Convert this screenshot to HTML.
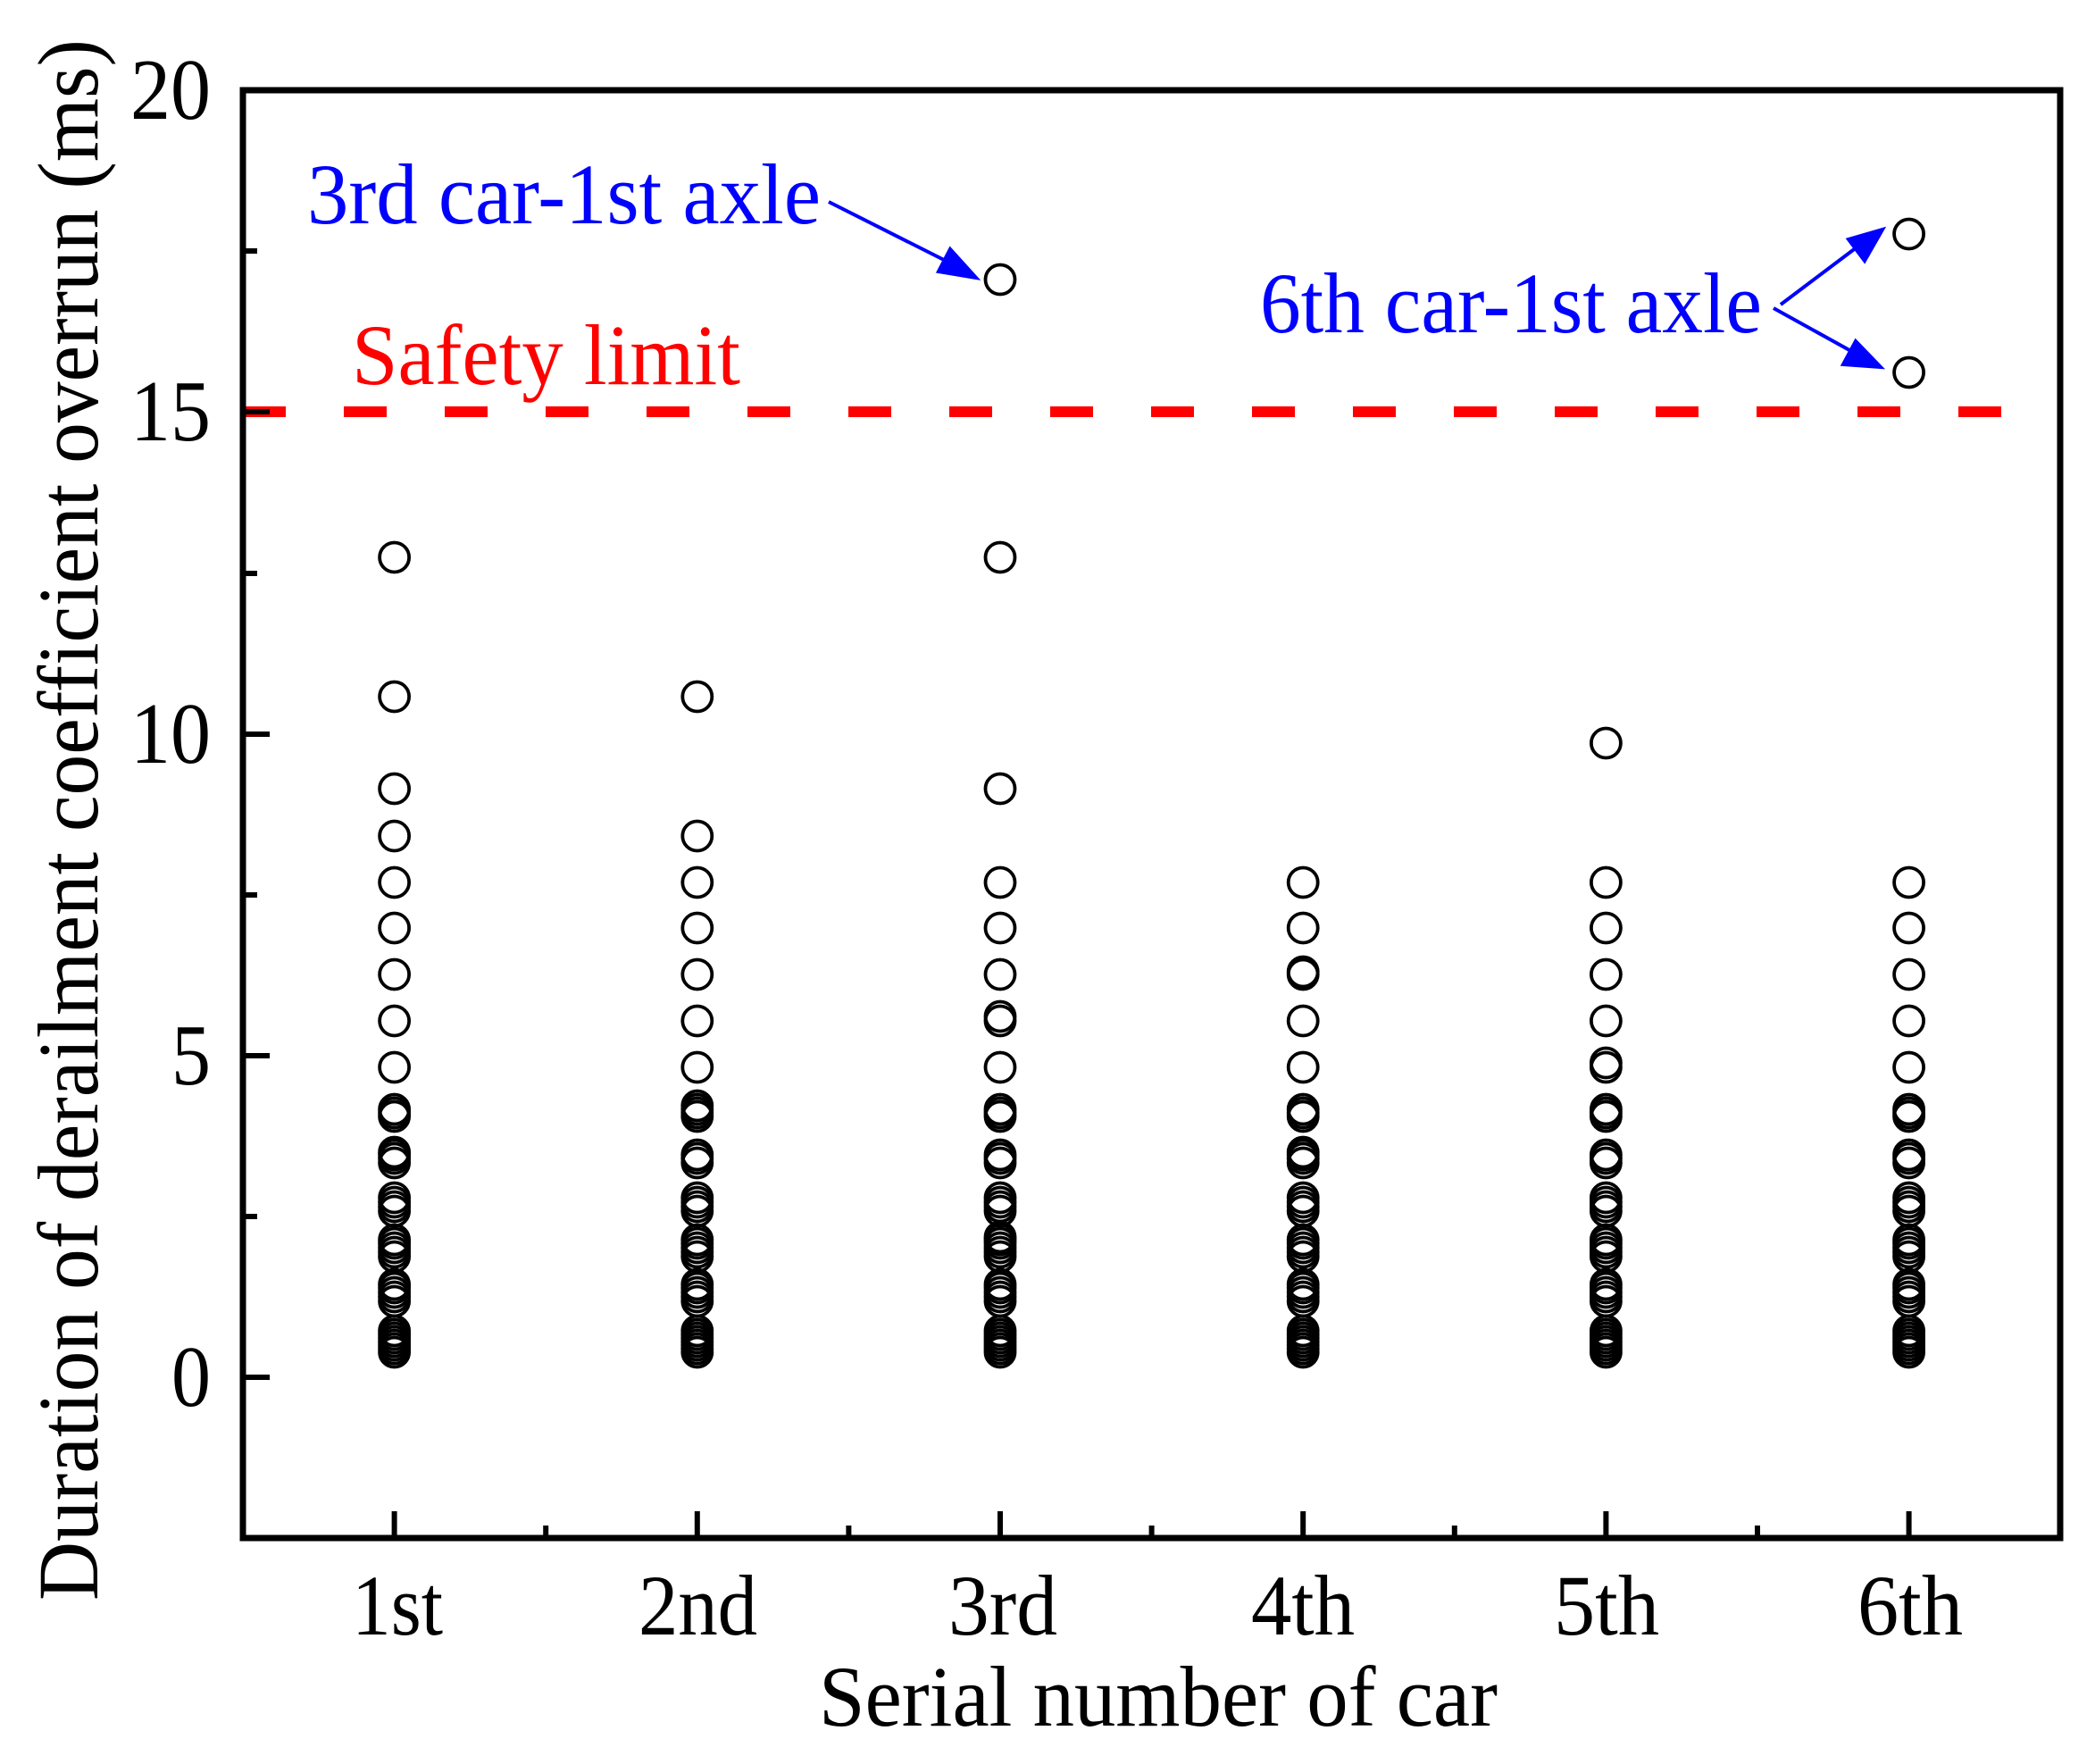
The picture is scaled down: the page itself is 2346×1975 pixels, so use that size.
<!DOCTYPE html>
<html><head><meta charset="utf-8"><style>
html,body{margin:0;padding:0;background:#fff;}
svg{display:block;}
text{font-family:"Liberation Serif",serif;}
</style></head><body>
<svg width="2346" height="1975" viewBox="0 0 2346 1975" xmlns="http://www.w3.org/2000/svg">
<defs>
<g id="G" fill="none" stroke="#000" stroke-width="3.8">
<circle cx="0" cy="1514" r="16.5"/><circle cx="0" cy="1510" r="16.5"/><circle cx="0" cy="1506" r="16.5"/><circle cx="0" cy="1502" r="16.5"/><circle cx="0" cy="1498" r="16.5"/><circle cx="0" cy="1494" r="16.5"/><circle cx="0" cy="1490" r="16.5"/>
<circle cx="0" cy="1457" r="16.5"/><circle cx="0" cy="1452" r="16.5"/><circle cx="0" cy="1447" r="16.5"/><circle cx="0" cy="1442" r="16.5"/><circle cx="0" cy="1438" r="16.5"/>
<circle cx="0" cy="1407" r="16.5"/><circle cx="0" cy="1402" r="16.5"/><circle cx="0" cy="1397" r="16.5"/><circle cx="0" cy="1392" r="16.5"/><circle cx="0" cy="1388" r="16.5"/>
<circle cx="0" cy="1356" r="16.5"/><circle cx="0" cy="1351" r="16.5"/><circle cx="0" cy="1346" r="16.5"/><circle cx="0" cy="1341" r="16.5"/>
<circle cx="0" cy="1302" r="16.5"/><circle cx="0" cy="1297" r="16.5"/><circle cx="0" cy="1293" r="16.5"/>
<circle cx="0" cy="1250" r="16.5"/><circle cx="0" cy="1246" r="16.5"/><circle cx="0" cy="1242" r="16.5"/>
<circle cx="0" cy="1195" r="16.5"/><circle cx="0" cy="1143" r="16.5"/><circle cx="0" cy="1091" r="16.5"/><circle cx="0" cy="1039" r="16.5"/><circle cx="0" cy="988" r="16.5"/>
</g>
</defs>
<line x1="272" y1="461" x2="2307" y2="461" stroke="#ff0000" stroke-width="12" stroke-dasharray="48 65"/>
<rect x="272" y="101" width="2035" height="1621" fill="none" stroke="#000" stroke-width="7"/>
<g stroke="#000" stroke-width="6">
<line x1="272" y1="101" x2="302" y2="101"/><line x1="272" y1="461" x2="302" y2="461"/><line x1="272" y1="822" x2="302" y2="822"/><line x1="272" y1="1182" x2="302" y2="1182"/><line x1="272" y1="1542" x2="302" y2="1542"/>
<line x1="272" y1="281" x2="288" y2="281"/><line x1="272" y1="642" x2="288" y2="642"/><line x1="272" y1="1002" x2="288" y2="1002"/><line x1="272" y1="1362" x2="288" y2="1362"/>
<line x1="441.6" y1="1722" x2="441.6" y2="1692"/><line x1="780.8" y1="1722" x2="780.8" y2="1692"/><line x1="1120" y1="1722" x2="1120" y2="1692"/><line x1="1459.2" y1="1722" x2="1459.2" y2="1692"/><line x1="1798.4" y1="1722" x2="1798.4" y2="1692"/><line x1="2137.6" y1="1722" x2="2137.6" y2="1692"/>
<line x1="611.2" y1="1722" x2="611.2" y2="1708"/><line x1="950.4" y1="1722" x2="950.4" y2="1708"/><line x1="1289.6" y1="1722" x2="1289.6" y2="1708"/><line x1="1628.8" y1="1722" x2="1628.8" y2="1708"/><line x1="1968" y1="1722" x2="1968" y2="1708"/>
</g>
<g font-size="98" fill="#000" text-anchor="end">
<text x="236" y="133" textLength="90" lengthAdjust="spacingAndGlyphs">20</text>
<text x="236" y="493" textLength="90" lengthAdjust="spacingAndGlyphs">15</text>
<text x="236" y="854" textLength="90" lengthAdjust="spacingAndGlyphs">10</text>
<text x="236" y="1214" textLength="44" lengthAdjust="spacingAndGlyphs">5</text>
<text x="236" y="1574" textLength="44" lengthAdjust="spacingAndGlyphs">0</text>
</g>
<g font-size="96" fill="#000">
<text x="394" y="1830" textLength="102" lengthAdjust="spacingAndGlyphs">1st</text>
<text x="715" y="1830" textLength="133" lengthAdjust="spacingAndGlyphs">2nd</text>
<text x="1062" y="1830" textLength="122" lengthAdjust="spacingAndGlyphs">3rd</text>
<text x="1401" y="1830" textLength="116" lengthAdjust="spacingAndGlyphs">4th</text>
<text x="1740" y="1830" textLength="118" lengthAdjust="spacingAndGlyphs">5th</text>
<text x="2080" y="1830" textLength="118" lengthAdjust="spacingAndGlyphs">6th</text>
</g>
<text x="917" y="1932" font-size="96" fill="#000" textLength="760" lengthAdjust="spacingAndGlyphs">Serial number of car</text>
<text transform="translate(109,1792) rotate(-90)" x="0" y="0" font-size="96" fill="#000" textLength="1748" lengthAdjust="spacingAndGlyphs">Duration of derailment coefficient overrun (ms)</text>
<g fill="none" stroke="#000" stroke-width="3.8">
<use href="#G" x="441.6"/>
<circle cx="441.6" cy="936" r="16.5"/><circle cx="441.6" cy="883" r="16.5"/><circle cx="441.6" cy="780" r="16.5"/><circle cx="441.6" cy="624" r="16.5"/><circle cx="441.6" cy="1290" r="16.5"/>
<use href="#G" x="780.8"/>
<circle cx="780.8" cy="936" r="16.5"/><circle cx="780.8" cy="780" r="16.5"/><circle cx="780.8" cy="1238" r="16.5"/>
<use href="#G" x="1120"/>
<circle cx="1120" cy="883" r="16.5"/><circle cx="1120" cy="624" r="16.5"/><circle cx="1120" cy="313" r="16.5"/><circle cx="1120" cy="1138" r="16.5"/><circle cx="1120" cy="1385" r="16.5"/>
<use href="#G" x="1459.2"/>
<circle cx="1459.2" cy="1088" r="16.5"/><circle cx="1459.2" cy="1290" r="16.5"/>
<use href="#G" x="1798.4"/>
<circle cx="1798.4" cy="832" r="16.5"/><circle cx="1798.4" cy="1190" r="16.5"/>
<use href="#G" x="2137.6"/>
<circle cx="2137.6" cy="262" r="16.5"/><circle cx="2137.6" cy="417" r="16.5"/>
</g>
<text x="344" y="250" font-size="96" fill="#0000ff" textLength="575" lengthAdjust="spacingAndGlyphs">3rd car-1st axle</text>
<text x="394" y="430" font-size="96" fill="#ff0000" textLength="435" lengthAdjust="spacingAndGlyphs">Safety limit</text>
<text x="1411" y="372" font-size="96" fill="#0000ff" textLength="562" lengthAdjust="spacingAndGlyphs">6th car-1st axle</text>
<g stroke="#0000ff" stroke-width="4" fill="#0000ff">
<line x1="928" y1="226" x2="1065" y2="295"/>
<polygon points="1093,311 1051,304 1064,279"/>
<line x1="1994" y1="341" x2="2083" y2="274"/>
<polygon points="2108,257 2088,292 2070,268"/>
<line x1="1986" y1="345" x2="2080" y2="397"/>
<polygon points="2106,411 2064,408 2078,382"/>
</g>
</svg>
</body></html>
